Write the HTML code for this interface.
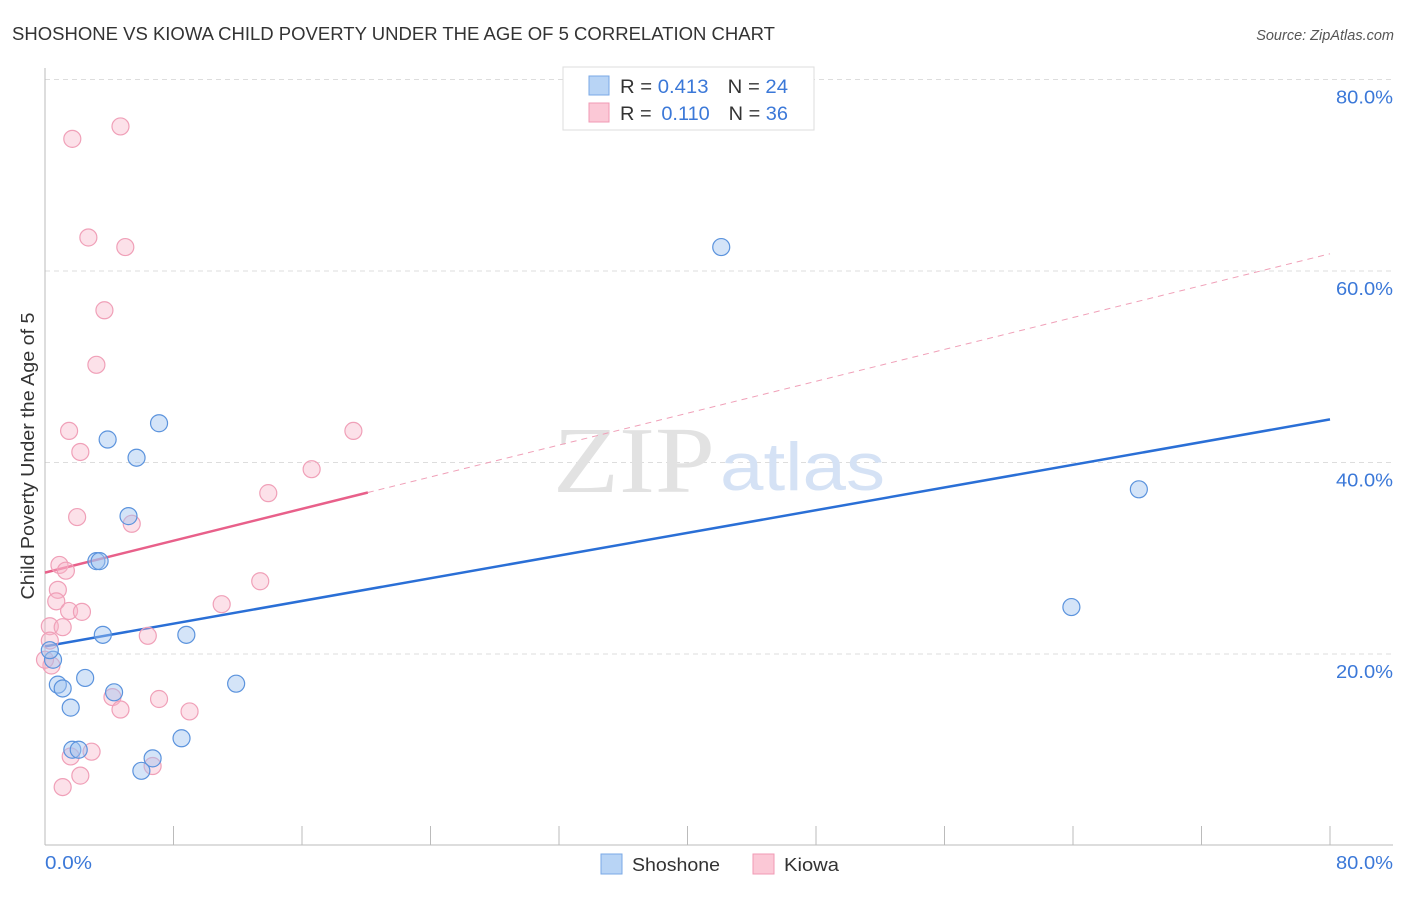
<!DOCTYPE html>
<html><head><meta charset="utf-8"><style>
body{margin:0;background:#fff;font-family:"Liberation Sans",sans-serif}
</style></head><body>
<svg id="chart" width="1406" height="892" xmlns="http://www.w3.org/2000/svg" font-family="Liberation Sans, sans-serif">
<text x="12" y="40" font-size="18" fill="#333" textLength="763" lengthAdjust="spacingAndGlyphs">SHOSHONE VS KIOWA CHILD POVERTY UNDER THE AGE OF 5 CORRELATION CHART</text>
<text x="1394" y="40" font-size="14.5" fill="#555" font-style="italic" text-anchor="end">Source: ZipAtlas.com</text>
<g id="grid"></g>
<g>
<text x="553" y="492" font-size="94" font-family="Liberation Serif, serif" fill="#e2e2e2" textLength="162" lengthAdjust="spacingAndGlyphs">ZIP</text>
<text x="720" y="490" font-size="68" fill="#d5e2f5" textLength="165" lengthAdjust="spacingAndGlyphs">atlas</text>
</g>
<g id="axes"></g>
<g id="trends"></g>
<g id="points"></g>
<text x="30" y="456" font-size="18" fill="#333" text-anchor="middle" textLength="287" lengthAdjust="spacingAndGlyphs" transform="rotate(-90 30 456)" dy="4">Child Poverty Under the Age of 5</text>
<g>
<rect x="563" y="67" width="251" height="63" fill="#fff" stroke="#ddd"/>
<rect x="589" y="76" width="20" height="19" fill="#b8d4f5" stroke="#7aa8e6"/>
<rect x="589" y="103" width="20" height="19" fill="#fbc8d6" stroke="#f09ab4"/>
<text x="620" y="93" font-size="19" fill="#333" textLength="168" lengthAdjust="spacingAndGlyphs">R = <tspan fill="#3b78d8">0.413</tspan><tspan dx="18">N = </tspan><tspan fill="#3b78d8">24</tspan></text>
<text x="620" y="120" font-size="19" fill="#333" textLength="168" lengthAdjust="spacingAndGlyphs">R = <tspan fill="#3b78d8" dx="4">0.110</tspan><tspan dx="18">N = </tspan><tspan fill="#3b78d8">36</tspan></text>
</g>
<g>
<rect x="601" y="854" width="21" height="20" fill="#b8d4f5" stroke="#7aa8e6"/>
<text x="632" y="871" font-size="18" fill="#333" textLength="88" lengthAdjust="spacingAndGlyphs">Shoshone</text>
<rect x="753" y="854" width="21" height="20" fill="#fbc8d6" stroke="#f09ab4"/>
<text x="784" y="871" font-size="18" fill="#333" textLength="55" lengthAdjust="spacingAndGlyphs">Kiowa</text>
</g>
</svg>
<script>
const blueX=[42.1,68.1,63.9,7.1,3.9,5.7,5.2,3.2,3.4,3.6,8.8,11.9,0.5,0.3,0.8,1.1,1.6,2.5,4.3,1.7,2.1,6.7,6.0,8.5];
const blueY=[62.5,37.2,24.9,44.1,42.4,40.5,34.4,29.7,29.7,22.0,22.0,16.9,19.4,20.4,16.8,16.4,14.4,17.5,16.0,10.0,10.0,9.1,7.8,11.2];
const pinkX=[4.7,1.7,2.7,5.0,3.7,3.2,1.5,2.2,19.2,16.6,13.9,2.0,5.4,0.9,1.3,0.8,0.7,1.5,2.3,13.4,11.0,0.3,1.1,6.4,0.3,0.4,4.2,4.7,7.1,9.0,2.9,1.6,6.7,2.2,1.1,0.0];
const pinkY=[75.1,73.8,63.5,62.5,55.9,50.2,43.3,41.1,43.3,39.3,36.8,34.3,33.6,29.3,28.7,26.7,25.5,24.5,24.4,27.6,25.2,22.9,22.8,21.9,21.4,18.8,15.5,14.2,15.3,14.0,9.8,9.3,8.3,7.3,6.1,19.4];
const blueTrend=[20.8,44.5];
const pinkTrend=[28.5,61.8];
const pinkSolidEnd=20.1;
const yTicks=[20,40,60,80];
const yTickLabels=["20.0%","40.0%","60.0%","80.0%"];
const xTicks=[0,8,16,24,32,40,48,56,64,72,80];
const NS="http://www.w3.org/2000/svg";
const sx=v=>45+v*1285/80, sy=v=>845.5-v*9.575;
function mk(tag,attrs,parent){const e=document.createElementNS(NS,tag);for(const k in attrs)e.setAttribute(k,attrs[k]);document.getElementById(parent).appendChild(e);return e;}
yTicks.forEach((t,i)=>{
 const g=mk('line',{x1:45,x2:1393,y1:sy(t),y2:sy(t),stroke:'#ddd','stroke-dasharray':'5,4'},'grid');
 
 
 const l=mk('text',{x:1336,y:sy(t)+24,'font-size':18,fill:'#3b78d8',textLength:57,lengthAdjust:'spacingAndGlyphs'},'grid');
 l.textContent=yTickLabels[i];
 
 
});
let a=mk('line',{x1:45,x2:45,y1:68,y2:845,stroke:'#bbb'},'axes');


a=mk('line',{x1:45,x2:1393,y1:845,y2:845,stroke:'#bbb'},'axes');


xTicks.forEach(t=>{const k=mk('line',{x1:sx(t),x2:sx(t),y1:826,y2:845,stroke:'#bbb'},'axes');
 
 });
let xl=mk('text',{x:45,y:869,'font-size':18,fill:'#3b78d8',textLength:47,lengthAdjust:'spacingAndGlyphs'},'axes');xl.textContent="0.0%";


xl=mk('text',{x:1336,y:869,'font-size':18,fill:'#3b78d8',textLength:57,lengthAdjust:'spacingAndGlyphs'},'axes');xl.textContent="80.0%";


const pAt=x=>pinkTrend[0]+(pinkTrend[1]-pinkTrend[0])*x/80;
let t=mk('line',{x1:sx(pinkSolidEnd),y1:sy(pAt(pinkSolidEnd)),x2:sx(80),y2:sy(pinkTrend[1]),stroke:'#f0a0b8','stroke-width':1,'stroke-dasharray':'6,5'},'trends');


t=mk('line',{x1:sx(0),y1:sy(pinkTrend[0]),x2:sx(pinkSolidEnd),y2:sy(pAt(pinkSolidEnd)),stroke:'#e8608a','stroke-width':2.5},'trends');


t=mk('line',{x1:sx(0),y1:sy(blueTrend[0]),x2:sx(80),y2:sy(blueTrend[1]),stroke:'#2a6fd6','stroke-width':2.5},'trends');


pinkX.forEach((x,i)=>{const c=mk('circle',{cx:sx(x),cy:sy(pinkY[i]),r:8.5,fill:'rgba(248,180,200,0.4)',stroke:'#f0a0b8','stroke-width':1.2},'points');
 
 });
blueX.forEach((x,i)=>{const c=mk('circle',{cx:sx(x),cy:sy(blueY[i]),r:8.5,fill:'rgba(160,196,240,0.45)',stroke:'#5b93dd','stroke-width':1.2},'points');
 
 });
</script>
</body></html>
